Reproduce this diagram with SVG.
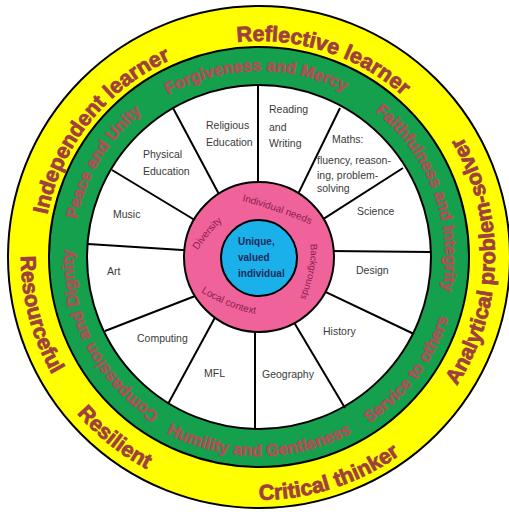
<svg xmlns="http://www.w3.org/2000/svg" width="509" height="516" viewBox="0 0 509 516">
<style>
.ring{stroke:#000;stroke-width:2}
.spoke{stroke:#000;stroke-width:2;fill:none}
.subj{font-family:"Liberation Sans",Arial,sans-serif;font-size:10.5px;fill:#3a3a3a}
.core{font-family:"Liberation Sans",Arial,sans-serif;font-size:10px;font-weight:bold;fill:#1c2a5c}
.pink{font-family:"Liberation Sans",Arial,sans-serif;font-size:10px;fill:#8b1c4c}
.green{font-family:"Liberation Sans",Arial,sans-serif;font-size:16.5px;font-weight:bold;fill:#b04f57;stroke:#b04f57;stroke-width:0.6}
.yellow{font-family:"Liberation Sans",Arial,sans-serif;font-size:21.5px;font-weight:bold;fill:#a03f3f;stroke:#a03f3f;stroke-width:0.8}
</style>
<defs>
<path id="pForg" d="M259,443 A186,186 0 1 1 265.49,442.89"/>
<path id="pPeace" d="M416.30,356.25 A186,186 0 1 1 419.67,350.71"/>
<path id="pComp" d="M425.32,173.71 A186,186 0 1 1 422.31,167.96"/>
<path id="pFaith" d="M83.68,319.09 A186,186 0 1 1 85.95,325.17"/>
<path id="pHum" d="M255.53,58.03 A199,199 0 1 0 262.47,58.03"/>
<path id="pServ" d="M98.41,139.47 A199,199 0 1 0 102.61,133.94"/>
<path id="pRefl" d="M188.67,461.23 A216,216 0 1 1 195.85,463.56"/>
<path id="pIndep" d="M425.67,394.40 A216,216 0 1 1 430.37,388.50"/>
<path id="pAnal" d="M23.00,256.18 A236,236 0 1 0 23.17,247.94"/>
<path id="pCrit" d="M181.09,26.83 A243,243 0 1 0 189.16,24.25"/>
<path id="pResil" d="M404.78,66.34 A240,240 0 1 0 411.33,71.55"/>
<path id="pResou" d="M488.00,192.19 A238,238 0 1 0 490.12,200.24"/>
<path id="pNeeds" d="M242,201 Q278,210.5 314,226"/>
<path id="pBack" d="M310.5,244 Q312,272.5 299.5,299"/>
<path id="pLocal" d="M201,292 Q233,311 257,314"/>
<path id="pDiv" d="M197.6,250.3 Q208.9,233.2 224.6,219.3"/>
</defs>
<rect width="509" height="516" fill="#fff"/>
<g id="rings">
<circle class="ring" cx="259" cy="257" r="251" fill="#ffff00"/>
<circle class="ring" cx="259" cy="257" r="210" fill="#14a04c"/>
<circle class="ring" cx="259" cy="257" r="172" fill="#ffffff"/>
</g>
<g id="connectors">
<line class="spoke" x1="258" y1="85" x2="258" y2="190"/>
<line class="spoke" x1="340" y1="108" x2="297.4" y2="195.4"/>
<line class="spoke" x1="403" y1="168" x2="320.8" y2="220.7"/>
<line class="spoke" x1="430" y1="252" x2="330" y2="251"/>
<line class="spoke" x1="414" y1="334" x2="322.8" y2="290.6"/>
<line class="spoke" x1="345" y1="408" x2="292.9" y2="320.4"/>
<line class="spoke" x1="255" y1="429" x2="255" y2="325"/>
<line class="spoke" x1="168" y1="404" x2="215.8" y2="316"/>
<line class="spoke" x1="105" y1="331" x2="199" y2="294.5"/>
<line class="spoke" x1="88" y1="244" x2="190" y2="250.5"/>
<line class="spoke" x1="112" y1="170" x2="198" y2="222"/>
<line class="spoke" x1="173" y1="108" x2="221" y2="198"/>
</g>
<g id="core">
<circle class="ring" cx="259" cy="257" r="75" fill="#f0639a"/>
<circle class="ring" cx="259" cy="258" r="38" fill="#1ab0ea"/>
<text class="core" x="238" y="245">Unique,</text>
<text class="core" x="238" y="261">valued</text>
<text class="core" x="238" y="277">individual</text>
</g>
<g id="context">
<text class="pink"><textPath href="#pNeeds">Individual needs</textPath></text>
<text class="pink"><textPath href="#pBack" style="font-size:9.5px">Backgrounds</textPath></text>
<text class="pink"><textPath href="#pLocal">Local context</textPath></text>
<text class="pink"><textPath href="#pDiv">Diversity</textPath></text>
</g>
<g id="re"><text class="subj" x="206" y="129">Religious</text><text class="subj" x="206" y="146">Education</text></g>
<g id="reading"><text class="subj" x="269" y="113">Reading</text><text class="subj" x="269" y="131">and</text><text class="subj" x="269" y="147">Writing</text></g>
<g id="maths"><text class="subj" x="332" y="143">Maths:</text><text class="subj" x="317" y="164">fluency, reason-</text><text class="subj" x="317" y="179">ing, problem-</text><text class="subj" x="317" y="192">solving</text></g>
<g id="science"><text class="subj" x="357" y="215">Science</text></g>
<g id="design"><text class="subj" x="356" y="274">Design</text></g>
<g id="history"><text class="subj" x="323" y="335">History</text></g>
<g id="geography"><text class="subj" x="262" y="378">Geography</text></g>
<g id="mfl"><text class="subj" x="204" y="377">MFL</text></g>
<g id="computing"><text class="subj" x="137" y="342">Computing</text></g>
<g id="art"><text class="subj" x="107" y="275">Art</text></g>
<g id="music"><text class="subj" x="113" y="218">Music</text></g>
<g id="pe"><text class="subj" x="143" y="158">Physical</text><text class="subj" x="143" y="175">Education</text></g>
<g id="values">
<text class="green" text-anchor="middle"><textPath href="#pForg" startOffset="50%">Forgiveness and Mercy</textPath></text>
<text class="green" text-anchor="middle"><textPath href="#pPeace" startOffset="50%">Peace and Unity</textPath></text>
<text class="green" text-anchor="middle"><textPath href="#pComp" startOffset="50%">Compassion and Dignity</textPath></text>
<text class="green" text-anchor="middle"><textPath href="#pFaith" startOffset="50%">Faithfulness and Integrity</textPath></text>
<text class="green" text-anchor="middle"><textPath href="#pHum" startOffset="50%">Humility and Gentleness</textPath></text>
<text class="green" text-anchor="middle"><textPath href="#pServ" startOffset="50%">Service to others</textPath></text>
</g>
<g id="learners">
<text class="yellow" text-anchor="middle"><textPath href="#pRefl" startOffset="50%">Reflective learner</textPath></text>
<text class="yellow" text-anchor="middle"><textPath href="#pIndep" startOffset="50%">Independent learner</textPath></text>
<text class="yellow" text-anchor="middle"><textPath href="#pAnal" startOffset="50%">Analytical problem-solver</textPath></text>
<text class="yellow" text-anchor="middle"><textPath href="#pCrit" startOffset="50%">Critical thinker</textPath></text>
<text class="yellow" text-anchor="middle"><textPath href="#pResil" startOffset="50%">Resilient</textPath></text>
<text class="yellow" text-anchor="middle"><textPath href="#pResou" startOffset="50%">Resourceful</textPath></text>
</g>
</svg>
